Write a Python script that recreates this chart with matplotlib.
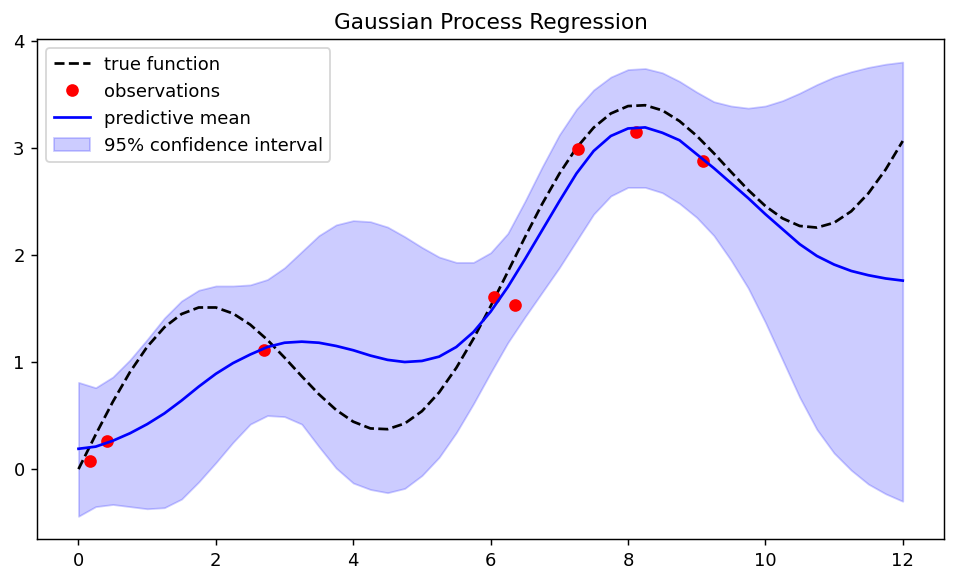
import numpy as np
import matplotlib
matplotlib.use("Agg")
import matplotlib.pyplot as plt

# grid of x positions the curves were read at
x_grid = np.arange(0, 12.01, 0.25)

# true function
true_y = [0.000, 0.322, 0.629, 0.907, 1.142, 1.324, 1.448, 1.509, 1.509, 1.453,
          1.349, 1.207, 1.041, 0.867, 0.699, 0.553, 0.443, 0.380, 0.373, 0.426,
          0.541, 0.716, 0.945, 1.217, 1.521, 1.842, 2.165, 2.475, 2.757, 2.999,
          3.188, 3.320, 3.389, 3.397, 3.349, 3.249, 3.112, 2.949, 2.775, 2.606,
          2.456, 2.341, 2.270, 2.255, 2.300, 2.407, 2.575, 2.796, 3.063]

# predictive mean (blue line)
mean_y = [0.19, 0.21, 0.265, 0.335, 0.42, 0.52, 0.64, 0.77, 0.89, 0.99,
          1.07, 1.14, 1.18, 1.19, 1.18, 1.15, 1.11, 1.06, 1.02, 1.00,
          1.01, 1.05, 1.14, 1.28, 1.47, 1.70, 1.96, 2.23, 2.50, 2.76,
          2.97, 3.11, 3.18, 3.19, 3.14, 3.07, 2.94, 2.81, 2.67, 2.53,
          2.38, 2.24, 2.10, 1.99, 1.91, 1.85, 1.81, 1.78, 1.76]

# 95% band edges
upper_y = [0.81, 0.76, 0.86, 1.02, 1.21, 1.41, 1.57, 1.67, 1.71, 1.71,
           1.72, 1.77, 1.88, 2.03, 2.18, 2.28, 2.32, 2.31, 2.26, 2.17,
           2.07, 1.98, 1.93, 1.93, 2.02, 2.20, 2.50, 2.82, 3.12, 3.36,
           3.54, 3.66, 3.73, 3.74, 3.70, 3.62, 3.52, 3.43, 3.39, 3.37,
           3.39, 3.44, 3.51, 3.59, 3.66, 3.71, 3.75, 3.78, 3.80]
lower_y = [-0.44, -0.35, -0.33, -0.35, -0.37, -0.36, -0.28, -0.12, 0.06, 0.25,
           0.42, 0.50, 0.49, 0.42, 0.21, 0.01, -0.13, -0.19, -0.22, -0.18,
           -0.06, 0.11, 0.34, 0.61, 0.90, 1.18, 1.42, 1.65, 1.88, 2.13,
           2.38, 2.55, 2.63, 2.63, 2.58, 2.48, 2.35, 2.18, 1.95, 1.69,
           1.37, 1.02, 0.67, 0.37, 0.15, -0.01, -0.14, -0.23, -0.30]

# noisy observations
obs_x = [0.17, 0.42, 2.70, 6.05, 6.35, 7.27, 8.12, 9.09]
obs_y = [0.075, 0.267, 1.116, 1.61, 1.53, 2.99, 3.15, 2.877]

fig = plt.figure(figsize=(956 / 130, 583 / 130), dpi=130)
ax = fig.add_axes([0.039, 0.0755, 0.9484, 0.857])

ax.plot(x_grid, true_y, "k--", label="true function")
ax.plot(obs_x, obs_y, "ro", label="observations")
ax.plot(x_grid, mean_y, "b-", label="predictive mean")
ax.fill_between(x_grid, lower_y, upper_y, color="blue", alpha=0.2,
                label="95% confidence interval")

ax.set_title("Gaussian Process Regression")
ax.legend(loc="upper left")

fig.savefig("out.png", dpi=130)
